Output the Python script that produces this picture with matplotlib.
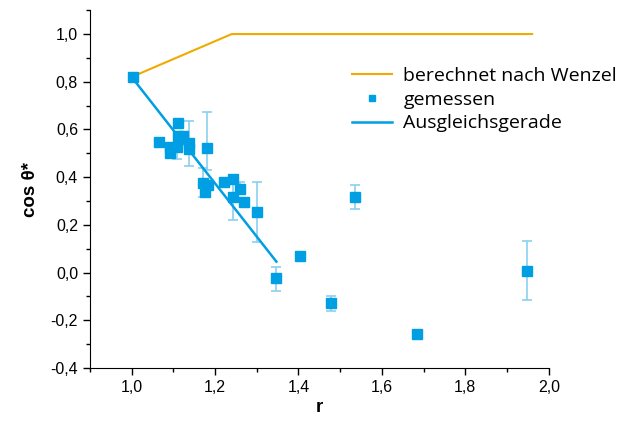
import matplotlib
matplotlib.use("Agg")
import matplotlib.pyplot as plt
from matplotlib.ticker import MultipleLocator, FuncFormatter

# berechnet nach Wenzel
r_wenzel = [1.0, 1.24, 1.96]
cos_wenzel = [0.82, 1.0, 1.0]

# Ausgleichsgerade
r_fit = [1.0, 1.347]
cos_fit = [0.82, 0.046]

# gemessen
r_meas = [1.004, 1.065, 1.112, 1.112, 1.124, 1.092, 1.092, 1.108, 1.138, 1.138,
          1.180, 1.172, 1.182, 1.176, 1.222, 1.242, 1.260, 1.242, 1.270, 1.300,
          1.346, 1.404, 1.477, 1.536, 1.683, 1.947]
cos_meas = [0.821, 0.547, 0.626, 0.572, 0.572, 0.528, 0.500, 0.528, 0.542, 0.520,
            0.521, 0.374, 0.367, 0.339, 0.381, 0.392, 0.349, 0.316, 0.297, 0.253,
            -0.021, 0.070, -0.129, 0.318, -0.259, 0.008]
err_low = [0.01, 0.015, 0.0, 0.0, 0.0, 0.0, 0.0, 0.052, 0.0, 0.074,
           0.091, 0.056, 0.0, 0.0, 0.01, 0.0, 0.02, 0.096, 0.02, 0.123,
           0.055, 0.01, 0.03, 0.05, 0.01, 0.122]
err_up = [0.01, 0.015, 0.0, 0.0, 0.0, 0.0, 0.0, 0.0, 0.0, 0.115,
          0.153, 0.063, 0.0, 0.0, 0.01, 0.0, 0.032, 0.093, 0.015, 0.125,
          0.046, 0.01, 0.03, 0.05, 0.01, 0.124]

orange = "#f0aa00"
blue = "#009fe3"

fig = plt.figure(figsize=(6.33, 4.24), dpi=100)
ax = fig.add_axes([0.142, 0.132, 0.725, 0.844])

l1, = ax.plot(r_wenzel, cos_wenzel, color=orange, lw=1.5)
eb = ax.errorbar(r_meas, cos_meas, yerr=[err_low, err_up], fmt="none",
                 ecolor="#8ad0f0", elinewidth=1.2, capsize=3.5, capthick=1.2)
pts, = ax.plot(r_meas, cos_meas, "s", color=blue, markersize=6.5, linestyle="none")
l2, = ax.plot(r_fit, cos_fit, color=blue, lw=1.8)

ax.set_xlim(0.9, 2.0)
ax.set_ylim(-0.4, 1.1)
ax.xaxis.set_major_locator(MultipleLocator(0.2))
ax.xaxis.set_minor_locator(MultipleLocator(0.1))
ax.yaxis.set_major_locator(MultipleLocator(0.2))
ax.yaxis.set_minor_locator(MultipleLocator(0.1))
comma = FuncFormatter(lambda v, p: f"{v:.1f}".replace(".", ",").replace("-0,0", "0,0"))
ax.xaxis.set_major_formatter(comma)
ax.yaxis.set_major_formatter(comma)

for s in ["top", "right"]:
    ax.spines[s].set_visible(False)
ax.tick_params(which="major", length=5, width=1, direction="out",
               labelsize=11.5, labelfontfamily="Liberation Sans")
ax.tick_params(which="minor", length=3, width=1, direction="out")

ax.set_xlabel("r", fontsize=13.5, fontweight="bold", family="Liberation Sans", labelpad=3)
ax.set_ylabel("cos θ*", fontsize=13.5, fontweight="bold", family="Liberation Sans", labelpad=8)

ax.legend([l1, pts, l2], ["berechnet nach Wenzel", "gemessen", "Ausgleichsgerade"],
          loc="upper left", bbox_to_anchor=(0.571, 0.842), borderaxespad=0,
          frameon=False, prop={"family": "Open Sans", "size": 14},
          handlelength=2.05, handletextpad=0.6, labelspacing=0.3,
          borderpad=0, markerscale=0.7)

fig.savefig("out.png", dpi=100)
